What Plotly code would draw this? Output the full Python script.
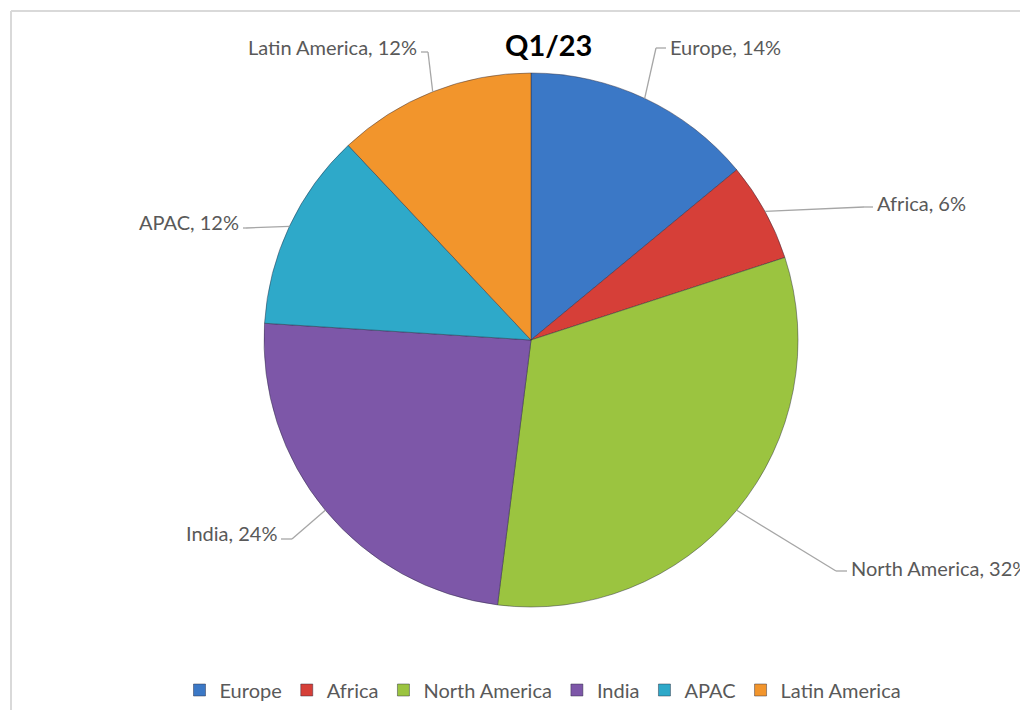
import math
import plotly.graph_objects as go

# ---- data ----
regions = ["Europe", "Africa", "North America", "India", "APAC", "Latin America"]
shares = [14, 6, 32, 24, 12, 12]
colors = ["#3b78c6", "#d63f38", "#9bc440", "#7d57a8", "#2ea9c9", "#f2952c"]
title_text = "Q1/23"

# the page body adds an 8px margin; size the figure so no scrollbars appear
OFF = 8
W, H = 1028 - 2 * OFF, 718 - 2 * OFF
cx, cy, R = 531, 340, 267  # pie centre / radius in window pixels (layout)
FONT = "Lato, 'Open Sans', sans-serif"

def px(x):
    return (x - OFF) / W

def py(y):
    return 1 - (y - OFF) / H

fig = go.Figure()
fig.add_trace(go.Pie(
    labels=regions,
    values=shares,
    sort=False,
    direction="clockwise",
    rotation=0,
    marker=dict(colors=colors, line=dict(color="rgba(40,40,60,0.45)", width=1)),
    textinfo="none",
    hoverinfo="skip",
    domain=dict(x=[px(cx - R), px(cx + R)], y=[py(cy + R), py(cy - R)]),
))

# label placement (layout): text anchor x, y, side, elbow point
label_layout = {
    "Europe":        dict(tx=668, ty=47,  side="left",  elbow=[(656, 48)]),
    "Africa":        dict(tx=875, ty=203, side="left",  elbow=[(864, 207)]),
    "North America": dict(tx=849, ty=568, side="left",  elbow=[(836, 571)]),
    "India":         dict(tx=279, ty=533, side="right", elbow=[(292, 539)]),
    "APAC":          dict(tx=241, ty=222, side="right", elbow=[(246, 228)]),
    "Latin America": dict(tx=419, ty=47,  side="right", elbow=[(428, 52)]),
}

total = sum(shares)
cum = 0
shapes = []
annotations = []
line_col = "#a6a6a6"
for name, v in zip(regions, shares):
    mid = (cum + v / 2) / total * 2 * math.pi
    cum += v
    ax = cx + R * math.sin(mid)
    ay = cy - R * math.cos(mid)
    L = label_layout[name]
    pts = [(ax, ay)] + L["elbow"]
    if L["side"] == "left":
        end = (L["tx"] - 2, L["elbow"][-1][1])
    else:
        end = (L["tx"] + 2, L["elbow"][-1][1])
    pts.append(end)
    for (x0, y0), (x1, y1) in zip(pts[:-1], pts[1:]):
        shapes.append(dict(type="line", xref="paper", yref="paper",
                           x0=px(x0), y0=py(y0), x1=px(x1), y1=py(y1),
                           line=dict(color=line_col, width=1.3)))
    annotations.append(dict(
        text=f"{name}, {v}%", xref="paper", yref="paper",
        x=px(L["tx"]), y=py(L["ty"]),
        xanchor=L["side"], yanchor="middle", showarrow=False,
        font=dict(family=FONT, size=20, color="#595959"),
    ))

# title
annotations.append(dict(
    text=f"<b>{title_text}</b>", xref="paper", yref="paper",
    x=px(548), y=py(45), xanchor="center", yanchor="middle", showarrow=False,
    font=dict(family=FONT, size=29, color="#000000"),
))

# chart-area border (only top and left edges are visible in the window)
shapes.append(dict(type="line", xref="paper", yref="paper",
                   x0=px(11), y0=py(11), x1=px(1100), y1=py(11),
                   line=dict(color="#d9d9d9", width=2)))
shapes.append(dict(type="line", xref="paper", yref="paper",
                   x0=px(11), y0=py(11), x1=px(11), y1=py(800),
                   line=dict(color="#d9d9d9", width=2)))

fig.update_layout(
    width=W, height=H,
    margin=dict(l=0, r=0, t=0, b=0),
    paper_bgcolor="white", plot_bgcolor="white",
    showlegend=True,
    legend=dict(orientation="h", x=px(543), xanchor="center", y=py(690), yanchor="middle",
                font=dict(family=FONT, size=20, color="#595959"),
                itemclick=False, traceorder="normal"),
    shapes=shapes,
    annotations=annotations,
)

fig.write_html("out.html")
